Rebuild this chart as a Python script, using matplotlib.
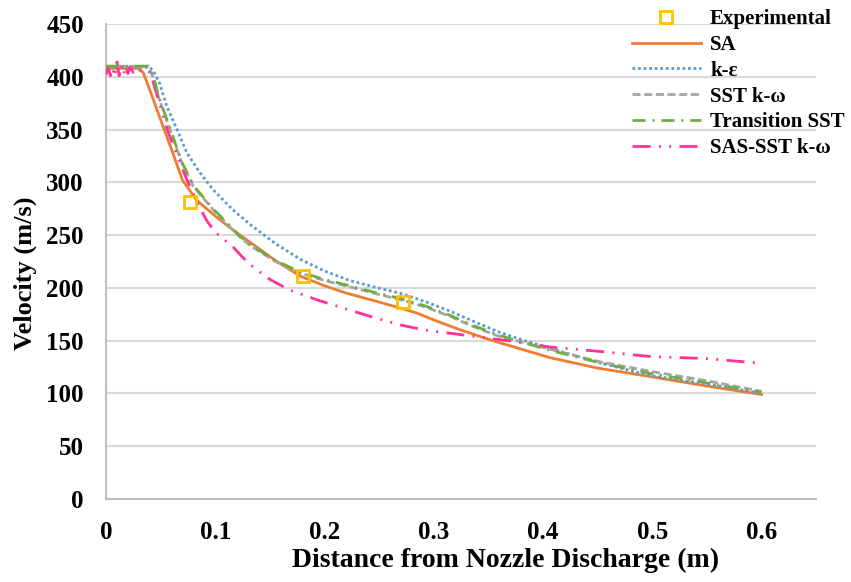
import matplotlib.pyplot as plt

plt.rcParams['font.family'] = ['Liberation Serif', 'DejaVu Serif']
plt.rcParams['font.weight'] = 'bold'

# measured velocity
exp_x = [0.077, 0.180, 0.272]
exp_v = [281, 211, 187]

# SA
sa_x = [0, 0.029, 0.034, 0.041, 0.049, 0.060, 0.070, 0.083, 0.1, 0.116, 0.132, 0.155, 0.178,
        0.2, 0.22, 0.245, 0.269, 0.285, 0.299, 0.325, 0.354, 0.38, 0.406, 0.45, 0.498, 0.55, 0.6]
sa_v = [408, 408, 404, 385, 362, 331, 302, 283, 268, 255, 243, 226, 211,
        202, 195, 188, 181, 176, 170, 160, 150, 142, 134, 124, 116, 107, 99]

# k-epsilon
ke_x = [0, 0.040, 0.044, 0.049, 0.0556, 0.065, 0.074, 0.086, 0.098, 0.116, 0.132, 0.155, 0.178,
        0.2, 0.223, 0.245, 0.269, 0.292, 0.315, 0.337, 0.36, 0.383, 0.406, 0.452, 0.498, 0.55, 0.6]
ke_v = [409, 409, 404, 394, 372, 350, 328, 309, 293, 274, 260, 242, 227,
        216, 207, 201, 195, 187, 178, 168, 158, 150, 143, 129, 117, 109, 100]

# SST k-omega
sst_x = [0, 0.039, 0.044, 0.048, 0.0586, 0.0695, 0.080, 0.098, 0.1226, 0.132, 0.155, 0.178,
         0.2, 0.223, 0.245, 0.269, 0.292, 0.315, 0.337, 0.36, 0.383, 0.406, 0.452, 0.498, 0.55, 0.6]
sst_v = [410, 410, 397, 381, 350, 318, 296, 274, 248, 240, 225, 214,
         207, 201, 195, 189, 182, 173, 163, 154, 148, 142, 130, 121, 112, 102]

# Transition SST
tr_x = [0, 0.039, 0.044, 0.048, 0.0586, 0.0695, 0.080, 0.098, 0.1226, 0.132, 0.155, 0.178,
        0.2, 0.223, 0.245, 0.269, 0.292, 0.315, 0.337, 0.36, 0.383, 0.406, 0.452, 0.498, 0.55, 0.6]
tr_v = [410, 410, 398, 382, 351, 319, 297, 275, 249, 241, 226, 215,
        208, 202, 196, 190, 183, 174, 164, 155, 148, 141, 129, 119, 110, 101]

# SAS-SST k-omega (noisy at the nozzle exit)
sas_x = [0, 0.002, 0.004, 0.006, 0.008, 0.010, 0.012, 0.014, 0.016, 0.018, 0.020, 0.022,
         0.025, 0.028, 0.032, 0.038, 0.041, 0.048, 0.056, 0.068, 0.075, 0.083, 0.092, 0.0997,
         0.116, 0.125, 0.132, 0.15, 0.168, 0.195, 0.223, 0.245, 0.269, 0.292, 0.315, 0.345,
         0.375, 0.406, 0.45, 0.498, 0.55, 0.595]
sas_v = [402, 409, 401, 408, 400, 414, 401, 411, 402, 410, 403, 409,
         404, 408, 406, 407, 402, 378, 350, 318, 300, 282, 264, 253,
         239, 229, 222, 208, 198, 188, 179, 172, 165, 160, 157, 153,
         149, 144, 140, 135, 133, 129]

fig = plt.figure(figsize=(8.51, 5.82), dpi=100)
ax = fig.add_axes([0.1246, 0.1426, 0.8344, 0.8162])

ax.plot(sa_x, sa_v, color='#ED7D31', lw=2.0, label='SA', zorder=3)
ax.plot(ke_x, ke_v, color='#5B9BD5', lw=2.0, linestyle=(0, (1, 1)), label='k-ε', zorder=3)
ax.plot(sst_x, sst_v, color='#A5A5A5', lw=2.0, linestyle=(0, (2.9, 1.3)), label='SST k-ω', zorder=3)
ax.plot(tr_x, tr_v, color='#70AD47', lw=2.0, linestyle=(0, (4.7, 2.5, 0.7, 2.5)),
        label='Transition SST', zorder=4)
ax.plot(sas_x, sas_v, color='#FF3399', lw=2.0, linestyle=(0, (6.5, 3, 0.7, 3, 0.7, 3)),
        label='SAS-SST k-ω', zorder=3)
ax.plot(exp_x, exp_v, linestyle='none', marker='s', markersize=9, markerfacecolor='none',
        markeredgecolor='#FFC000', markeredgewidth=2, label='Experimental', zorder=5)

ax.set_xlim(0, 0.65)
ax.set_ylim(0, 450)
ax.set_xticks([0, 0.1, 0.2, 0.3, 0.4, 0.5, 0.6])
ax.set_xticklabels(['0', '0.1', '0.2', '0.3', '0.4', '0.5', '0.6'])
ax.set_yticks(range(0, 451, 50))
ax.tick_params(length=0, labelsize=18)
ax.tick_params(axis='x', pad=16)
ax.tick_params(axis='y', pad=16)
ax.grid(axis='y', color='#D9D9D9', lw=1.5)
ax.set_axisbelow(True)
for s in ['top', 'right']:
    ax.spines[s].set_visible(False)
for s in ['left', 'bottom']:
    ax.spines[s].set_color('#BFBFBF')
    ax.spines[s].set_linewidth(1.5)

ax.set_xlabel('Distance from Nozzle Discharge (m)', fontsize=20, fontweight='bold')
ax.set_ylabel('Velocity (m/s)', fontsize=19, fontweight='bold')
ax.xaxis.set_label_coords(0.563, -0.103)
ax.yaxis.set_label_coords(-0.097, 0.476)

handles, labels = ax.get_legend_handles_labels()
order = [5, 0, 1, 2, 3, 4]
ax.legend([handles[i] for i in order], [labels[i] for i in order], loc='upper left',
          bbox_to_anchor=(632 / 851, 1 - 9 / 582), bbox_transform=fig.transFigure,
          frameon=False, handlelength=3.3, labelspacing=0.28, handletextpad=0.45,
          borderpad=0, borderaxespad=0, prop={'weight': 'bold', 'size': 15})

fig.savefig('out.png', dpi=100)
